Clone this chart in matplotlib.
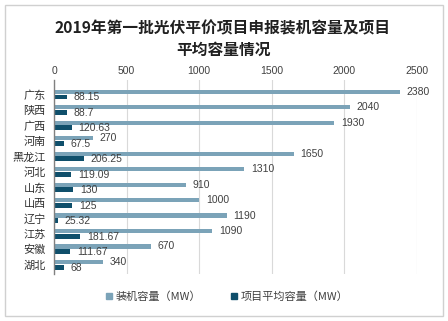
import matplotlib.pyplot as plt
from matplotlib.patches import Rectangle
from matplotlib.lines import Line2D

plt.rcParams['font.family'] = ['Noto Sans CJK SC', 'DejaVu Sans']
num_font = ['Liberation Sans', 'Noto Sans CJK SC']

provinces = ["广东", "陕西", "广西", "河南", "黑龙江", "河北", "山东", "山西", "辽宁", "江苏", "安徽", "湖北"]
capacity = [2380, 2040, 1930, 270, 1650, 1310, 910, 1000, 1190, 1090, 670, 340]
avg_capacity = [88.15, 88.7, 120.63, 67.5, 206.25, 119.09, 130, 125, 25.32, 181.67, 111.67, 68]
cap_labels = ["2380", "2040", "1930", "270", "1650", "1310", "910", "1000", "1190", "1090", "670", "340"]
avg_labels = ["88.15", "88.7", "120.63", "67.5", "206.25", "119.09", "130", "125", "25.32", "181.67", "111.67", "68"]

light = "#7ba3b8"
dark = "#0f4f6b"
text_c = "#404040"

W, H = 448, 321
fig = plt.figure(figsize=(W / 100, H / 100), dpi=100)

# outer frame
fig.patches.append(Rectangle((5 / W, 5 / H), 438 / W, 311 / H, transform=fig.transFigure,
                             fill=False, edgecolor="#d0d0d0", lw=1))

ax = fig.add_axes([54 / W, 1 - 274 / H, 363 / W, 194 / H])
ys = list(range(len(provinces)))
y_light = [y - 0.17 for y in ys]
y_dark = [y + 0.16 for y in ys]
ax.barh(y_light, capacity, height=0.27, color=light, zorder=2)
ax.barh(y_dark, avg_capacity, height=0.32, color=dark, zorder=2)

for y, v, s in zip(y_light, capacity, cap_labels):
    ax.text(v + 45, y, s, va="center", ha="left", fontsize=7.5, color=text_c, family=num_font)
for y, v, s in zip(y_dark, avg_capacity, avg_labels):
    ax.text(v + 48, y + 0.03, s, va="center", ha="left", fontsize=7.5, color=text_c, family=num_font)

ax.set_xlim(0, 2500)
ax.set_ylim(11.61, -0.94)
ax.set_xticks([0, 500, 1000, 1500, 2000, 2500])
ax.xaxis.tick_top()
ax.tick_params(axis="x", length=0, labelsize=7.5, labelcolor=text_c, pad=3)
for lbl in ax.get_xticklabels():
    lbl.set_family(num_font)
ax.set_yticks(ys)
ax.set_yticklabels(provinces)
ax.tick_params(axis="y", length=0, labelsize=8, labelcolor="#303030", pad=6)
ax.grid(axis="x", color="#d9d9d9", lw=0.8, zorder=0)
for s in ["top", "right", "bottom"]:
    ax.spines[s].set_visible(False)
ax.spines["left"].set_color("#808080")
ax.spines["left"].set_linewidth(1)

fig.text(223 / W, 1 - 28 / H, "2019年第一批光伏平价项目申报装机容量及项目", ha="center", va="center",
         fontsize=11.3, fontweight="bold", color="#202020")
fig.text(224 / W, 1 - 50 / H, "平均容量情况", ha="center", va="center",
         fontsize=11.3, fontweight="bold", color="#202020")

handles = [Line2D([], [], marker="s", ls="none", color=light, markersize=4.5),
           Line2D([], [], marker="s", ls="none", color=dark, markersize=4.5)]
fig.legend(handles, ["装机容量（MW）", "项目平均容量（MW）"], loc="center",
           bbox_to_anchor=(226 / W, 1 - 297 / H), ncol=2, frameon=False, fontsize=8,
           handletextpad=0.1, columnspacing=2.4, handlelength=1, labelcolor=text_c)

fig.savefig("out.png", dpi=100)
